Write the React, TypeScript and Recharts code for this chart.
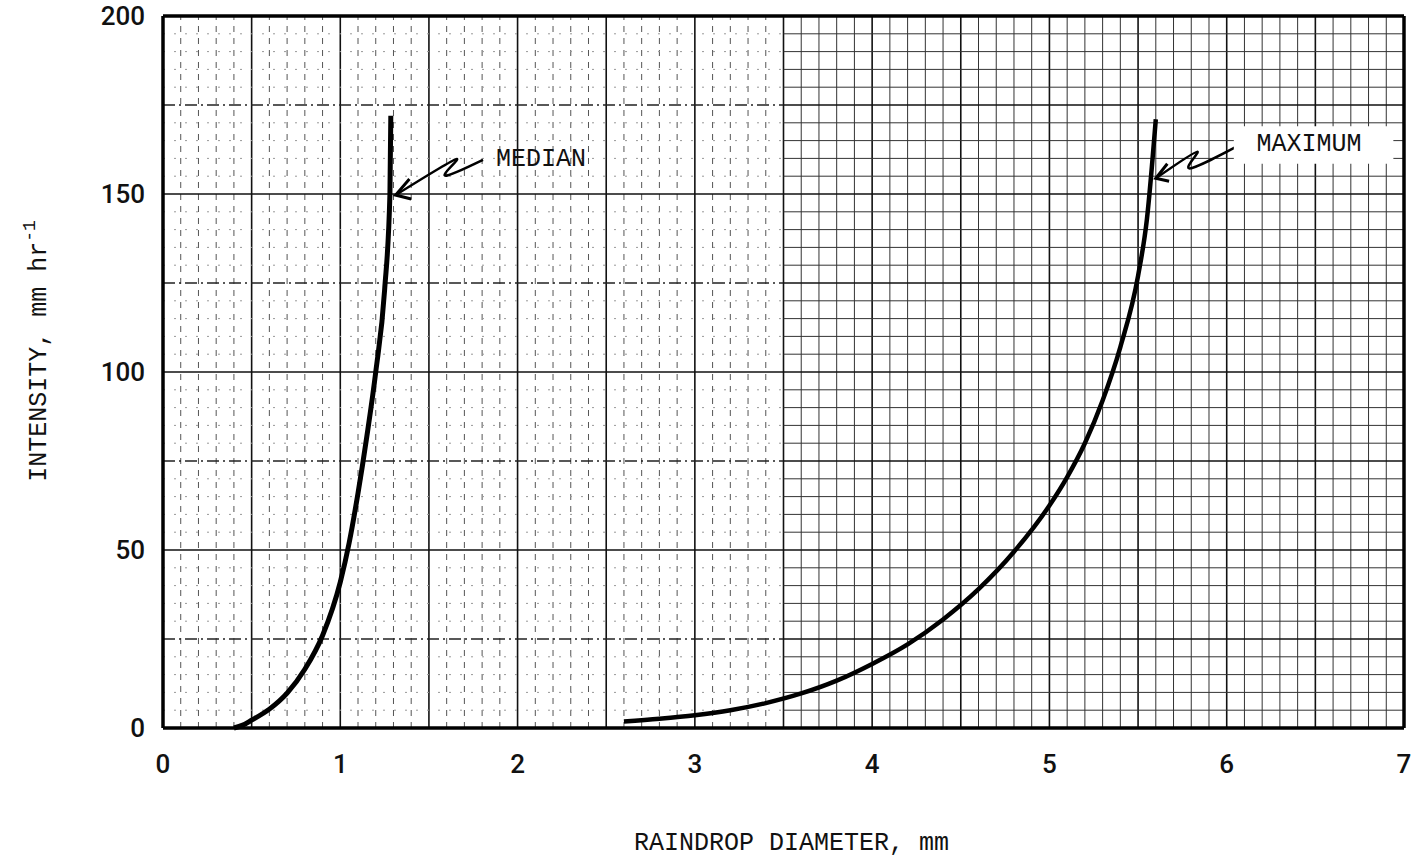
import React from "react";
import { LineChart, Line, XAxis, YAxis, ReferenceLine, ReferenceArea, ReferenceDot, Label } from "recharts";

const xTicks = [0, 1, 2, 3, 4, 5, 6, 7];
const yTicks = [0, 50, 100, 150, 200];

// median drop size curve
const medianDiameter = [0.4, 0.45, 0.5, 0.6, 0.7, 0.8, 0.9, 1.0, 1.05, 1.1, 1.15, 1.2, 1.25, 1.28, 1.285];
const medianIntensity = [0, 0.8, 2.2, 5.3, 9.8, 16.5, 26, 41, 52, 66, 82, 100, 123, 150, 172];

// maximum drop size curve
const maximumDiameter = [2.6, 2.8, 3.0, 3.2, 3.4, 3.6, 3.8, 4.0, 4.2, 4.4, 4.6, 4.8, 5.0, 5.1, 5.2, 5.3, 5.4, 5.5, 5.55, 5.6];
const maximumIntensity = [1.8, 2.6, 3.6, 5.0, 7.0, 9.7, 13.3, 18, 23.5, 30.5, 39, 49.5, 62.5, 70.5, 80, 92, 107, 127, 143, 171];

// hand drawn arrows (data units)
const medianArrowX = [1.312, 1.654, 1.588, 1.805];
const medianArrowY = [149.7, 159.8, 155.3, 159.6];
const medianHeadX = [1.39, 1.312, 1.40];
const medianHeadY = [154.2, 149.7, 148.6];
const maximumArrowX = [5.6, 5.835, 5.788, 6.09];
const maximumArrowY = [154.4, 161.9, 157.2, 164.2];
const maximumHeadX = [5.665, 5.6, 5.675];
const maximumHeadY = [158.5, 154.4, 153.6];

const toRows = (xs: number[], ys: number[]) => xs.map((d, i) => ({ d, v: ys[i] }));

const mono = "'Liberation Mono', 'DejaVu Sans Mono', monospace";
const sans = "Roboto, 'Noto Sans', sans-serif";

// graph paper lines
const xGrid = Array.from({ length: 71 }, (_, i) => i);
const yGrid = Array.from({ length: 41 }, (_, j) => j);
const SPLIT = 3.5;

function note(text: string) {
  return (props: any) => {
    const vb = props.viewBox || {};
    const x = vb.x + (vb.width || 0) / 2;
    const y = vb.y + (vb.height || 0) / 2;
    return (
      <text x={x} y={y} fontFamily={mono} fontSize={25} fill="#111">
        {text}
      </text>
    );
  };
}

function YTitle(props: any) {
  const vb = props.viewBox;
  const cx = vb.x + 46;
  const cy = vb.y + vb.height / 2 - 21;
  return (
    <text x={cx} y={cy} transform={`rotate(-90 ${cx} ${cy})`} textAnchor="middle" fontFamily={mono} fontSize={25} fill="#111">
      INTENSITY, mm hr<tspan dy={-11} fontSize={18}>-1</tspan>
    </text>
  );
}

function XTitle(props: any) {
  const vb = props.viewBox;
  return (
    <text x={vb.x + vb.width / 2 + 8} y={vb.y + 122} textAnchor="middle" fontFamily={mono} fontSize={25} fill="#111">
      RAINDROP DIAMETER, mm
    </text>
  );
}

export default function App() {
  const lineProps = { dot: false, activeDot: false, isAnimationActive: false, legendType: "none" as const, dataKey: "v" };
  return (
    <div style={{ position: "absolute", left: 0, top: 0, background: "#fff" }}>
      <LineChart width={1414} height={868} margin={{ top: 16, right: 10, left: 0, bottom: 10 }}>
        <XAxis
          type="number"
          dataKey="d"
          domain={[0, 7]}
          ticks={xTicks}
          axisLine={false}
          tickLine={false}
          tickSize={0}
          tickMargin={27}
          height={130}
          tick={{ fontFamily: sans, fontSize: 26, fontWeight: 500, fill: "#111" }}
        >
          <Label content={XTitle} />
        </XAxis>
        <YAxis
          type="number"
          domain={[0, 200]}
          ticks={yTicks}
          axisLine={false}
          tickLine={false}
          tickSize={0}
          tickMargin={18}
          width={163}
          tick={{ fontFamily: sans, fontSize: 26, fontWeight: 500, fill: "#111" }}
        >
          <Label content={YTitle} />
        </YAxis>

        {xGrid.map((i) => {
          const x = i / 10;
          if (i % 5 === 0) return <ReferenceLine key={"vx" + i} x={x} stroke="#111" strokeWidth={1.6} />;
          return x < SPLIT ? (
            <ReferenceLine key={"vx" + i} x={x} stroke="#555" strokeWidth={1} strokeDasharray="6 6" />
          ) : (
            <ReferenceLine key={"vx" + i} x={x} stroke="#333" strokeWidth={1} />
          );
        })}
        {yGrid.map((j) => {
          const y = j * 5;
          if (j % 10 === 0) return <ReferenceLine key={"hy" + j} y={y} stroke="#111" strokeWidth={1.6} />;
          if (j % 5 === 0)
            return [
              <ReferenceLine key={"hyl" + j} segment={[{ x: 0, y }, { x: SPLIT, y }]} stroke="#222" strokeWidth={1.4} strokeDasharray="12 4 2 4" />,
              <ReferenceLine key={"hyr" + j} segment={[{ x: SPLIT, y }, { x: 7, y }]} stroke="#111" strokeWidth={1.6} />,
            ];
          return [
            <ReferenceLine key={"hyl" + j} segment={[{ x: 0, y }, { x: SPLIT, y }]} stroke="#999" strokeWidth={1} strokeDasharray="2 9" />,
            <ReferenceLine key={"hyr" + j} segment={[{ x: SPLIT, y }, { x: 7, y }]} stroke="#333" strokeWidth={1} />,
          ];
        })}

        <ReferenceLine x={0} stroke="#000" strokeWidth={3.5} />
        <ReferenceLine x={7} stroke="#000" strokeWidth={3.5} />
        <ReferenceLine y={0} stroke="#000" strokeWidth={3.5} />
        <ReferenceLine y={200} stroke="#000" strokeWidth={3.5} />

        <ReferenceArea x1={6.04} x2={6.94} y1={158.5} y2={169} fill="#fff" fillOpacity={1} stroke="none" zIndex={450} />

        <Line {...lineProps} data={toRows(medianDiameter, medianIntensity)} type="monotone" stroke="#000" strokeWidth={5} />
        <Line {...lineProps} data={toRows(maximumDiameter, maximumIntensity)} type="monotone" stroke="#000" strokeWidth={4.5} />

        <Line {...lineProps} data={toRows(medianArrowX, medianArrowY)} type="natural" stroke="#000" strokeWidth={2.5} />
        <Line {...lineProps} data={toRows(medianHeadX, medianHeadY)} type="linear" stroke="#000" strokeWidth={3} />
        <Line {...lineProps} data={toRows(maximumArrowX, maximumArrowY)} type="natural" stroke="#000" strokeWidth={2.5} />
        <Line {...lineProps} data={toRows(maximumHeadX, maximumHeadY)} type="linear" stroke="#000" strokeWidth={3} />

        <ReferenceDot x={1.879} y={157.9} r={0} fill="none" stroke="none" label={{ content: note("MEDIAN") }} />
        <ReferenceDot x={6.168} y={162.1} r={0} fill="none" stroke="none" label={{ content: note("MAXIMUM") }} />
      </LineChart>
    </div>
  );
}
